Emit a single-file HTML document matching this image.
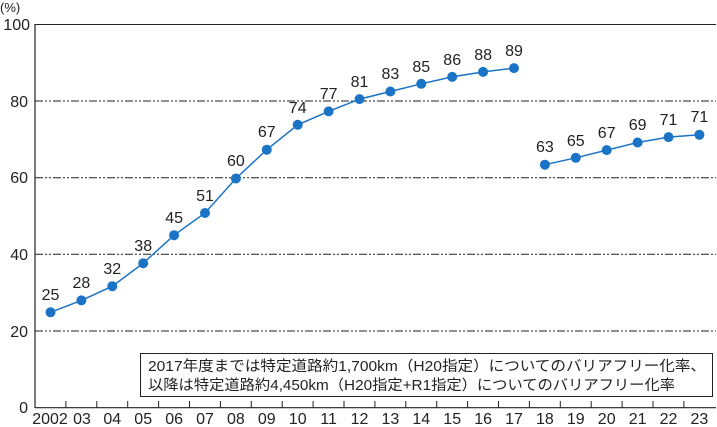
<!DOCTYPE html><html><head><meta charset="utf-8"><style>body{margin:0;background:#fff}svg{display:block}text{font-family:"Liberation Sans","Noto Sans CJK JP",sans-serif;fill:#222}</style></head><body>
<svg width="717" height="427" xmlns="http://www.w3.org/2000/svg">
<g stroke="#222" stroke-width="1" stroke-dasharray="8,2,2,2,2,2">
<line x1="35" y1="331" x2="716" y2="331"/><line x1="35" y1="254.3" x2="716" y2="254.3"/><line x1="35" y1="177.7" x2="716" y2="177.7"/><line x1="35" y1="101" x2="716" y2="101"/></g>
<line x1="35" y1="24.5" x2="716" y2="24.5" stroke="#222"/>
<line x1="35" y1="24" x2="35" y2="408" stroke="#222" stroke-width="1.2"/>
<line x1="35" y1="407.7" x2="716" y2="407.7" stroke="#222" stroke-width="1.2"/>
<path stroke="#222" d="M65.9 401V408M96.8 401V408M127.7 401V408M158.6 401V408M189.5 401V408M220.4 401V408M251.3 401V408M282.2 401V408M313.1 401V408M344 401V408M374.9 401V408M405.8 401V408M436.7 401V408M467.6 401V408M498.5 401V408M529.4 401V408M560.3 401V408M591.2 401V408M622.1 401V408M653 401V408M683.9 401V408"/>
<g font-size="16" text-anchor="end"><text x="28" y="413">0</text><text x="28" y="337">20</text><text x="28" y="260">40</text><text x="28" y="183">60</text><text x="28" y="107">80</text><text x="30" y="30">100</text></g>
<text x="0" y="12" font-size="13">(%)</text>
<polyline points="50.5,312.3 81.4,300.4 112.3,286.2 143.2,263.2 174.1,235.2 205,213 235.9,178.5 266.8,149.7 297.7,124.8 328.6,111.4 359.5,99.1 390.4,91.5 421.3,83.8 452.2,76.9 483.1,71.9 514,68.1" fill="none" stroke="#1a73c4" stroke-width="1.5"/>
<polyline points="544.9,164.7 575.8,157.8 606.7,150.1 637.6,142.5 668.5,137.1 699.4,134.8" fill="none" stroke="#1a73c4" stroke-width="1.5"/>
<g fill="#1a73c4">
<circle cx="50.5" cy="312.3" r="5"/><circle cx="81.4" cy="300.4" r="5"/><circle cx="112.3" cy="286.2" r="5"/><circle cx="143.2" cy="263.2" r="5"/><circle cx="174.1" cy="235.2" r="5"/><circle cx="205" cy="213" r="5"/><circle cx="235.9" cy="178.5" r="5"/><circle cx="266.8" cy="149.7" r="5"/><circle cx="297.7" cy="124.8" r="5"/><circle cx="328.6" cy="111.4" r="5"/><circle cx="359.5" cy="99.1" r="5"/><circle cx="390.4" cy="91.5" r="5"/><circle cx="421.3" cy="83.8" r="5"/><circle cx="452.2" cy="76.9" r="5"/><circle cx="483.1" cy="71.9" r="5"/><circle cx="514" cy="68.1" r="5"/>
<circle cx="544.9" cy="164.7" r="5"/><circle cx="575.8" cy="157.8" r="5"/><circle cx="606.7" cy="150.1" r="5"/><circle cx="637.6" cy="142.5" r="5"/><circle cx="668.5" cy="137.1" r="5"/><circle cx="699.4" cy="134.8" r="5"/></g>
<g font-size="16" text-anchor="middle">
<text x="50.5" y="300">25</text><text x="81.4" y="288">28</text><text x="112.3" y="274">32</text><text x="143.2" y="251">38</text><text x="174.1" y="223">45</text><text x="205" y="201">51</text><text x="235.9" y="166">60</text><text x="266.8" y="137">67</text><text x="297.7" y="113">74</text><text x="328.6" y="99">77</text><text x="359.5" y="87">81</text><text x="390.4" y="79">83</text><text x="421.3" y="72">85</text><text x="452.2" y="65">86</text><text x="483.1" y="60">88</text><text x="514" y="56">89</text>
<text x="544.9" y="152">63</text><text x="575.8" y="146">65</text><text x="606.7" y="138">67</text><text x="637.6" y="130">69</text><text x="668.5" y="125">71</text><text x="699.4" y="122">71</text>
<text x="50" y="424">2002</text><text x="82" y="424">03</text><text x="112.3" y="424">04</text><text x="143.2" y="424">05</text><text x="174.1" y="424">06</text><text x="205" y="424">07</text><text x="235.9" y="424">08</text><text x="266.8" y="424">09</text><text x="297.7" y="424">10</text><text x="328.6" y="424">11</text><text x="359.5" y="424">12</text><text x="390.4" y="424">13</text><text x="421.3" y="424">14</text><text x="452.2" y="424">15</text><text x="483.1" y="424">16</text><text x="514" y="424">17</text><text x="544.9" y="424">18</text><text x="575.8" y="424">19</text><text x="606.7" y="424">20</text><text x="637.6" y="424">21</text><text x="668.5" y="424">22</text><text x="699.4" y="424">23</text>
</g>
<rect x="140.5" y="353.5" width="572" height="43" fill="#fff" stroke="#222"/>
<text x="148" y="371" font-size="14.5" textLength="558" lengthAdjust="spacingAndGlyphs">2017年度までは特定道路約1,700km（H20指定）についてのバリアフリー化率、</text>
<text x="148" y="390" font-size="14.5" textLength="527" lengthAdjust="spacingAndGlyphs">以降は特定道路約4,450km（H20指定+R1指定）についてのバリアフリー化率</text>
</svg></body></html>
